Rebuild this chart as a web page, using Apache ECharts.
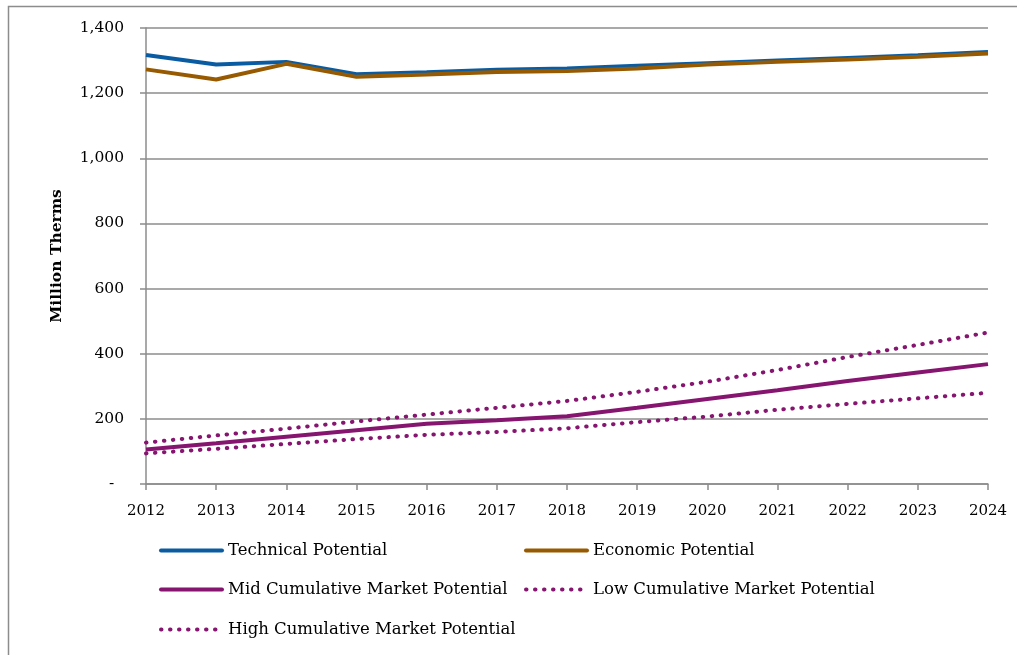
<!DOCTYPE html>
<html style="height: 100%">
<head>
    <meta charset="UTF-8">
    <script src="https://cdn.jsdelivr.net/npm/echarts@6/dist/echarts.min.js"></script>
</head>
<body style="margin: 0; background-color: #FFFFFF">
    <div id="paint" style="width: 1017px; height: 655px;"></div>
<script>
    // years on the x axis
    var years = ['2012','2013','2014','2015','2016','2017','2018','2019','2020','2021','2022','2023','2024'];
    var technical = [1317, 1288, 1296, 1258, 1264, 1272, 1276, 1284, 1292, 1300, 1308, 1316, 1326];
    var economic  = [1273, 1242, 1290, 1250, 1257, 1265, 1268, 1276, 1288, 1296, 1303, 1312, 1322];
    var midMarket = [106, 125, 145, 165, 185, 196, 208, 234, 261, 288, 316, 342, 368];
    var lowMarket = [94, 108, 123, 138, 151, 160, 171, 190, 207, 228, 246, 263, 280];
    var highMarket = [127, 149, 170, 192, 213, 234, 255, 283, 314, 350, 390, 427, 465];

    var font = '"DejaVu Serif", "Liberation Serif", serif';
    var purple = '#861570';
    var dots = { width: 4, type: [0.5, 8.5], cap: 'round', color: purple };

    function oneLegend(name, left, top) {
        return {
            data: [name], left: left, top: top, orient: 'horizontal',
            itemWidth: 61, itemHeight: 8, itemGap: 0,
            itemStyle: { opacity: 0 },
            lineStyle: { width: 4, cap: 'round' },
            textStyle: { fontFamily: font, fontSize: 16.5, color: '#000', padding: [0, 0, 0, 1] }
        };
    }

    echarts.init(document.getElementById('paint')).setOption({
        backgroundColor: '#FFFFFF',
        animation: false,
        graphic: [{
            type: 'rect', left: 6, top: 4, silent: true,
            shape: { x: 0, y: 0, width: 1030, height: 680 },
            style: { fill: 'none', stroke: '#8c8c8c', lineWidth: 1.5 }
        }],
        grid: { left: 146, right: 29, top: 28, bottom: 171, containLabel: false },
        legend: [
            oneLegend('Technical Potential', 154, 537),
            oneLegend('Economic Potential', 519, 537),
            oneLegend('Mid Cumulative Market Potential', 154, 576),
            oneLegend('Low Cumulative Market Potential', 519, 576),
            oneLegend('High Cumulative Market Potential', 154, 616)
        ],
        xAxis: {
            type: 'category',
            data: years,
            boundaryGap: false,
            axisLine: { lineStyle: { color: '#8c8c8c', width: 1.5 } },
            axisTick: { show: true, length: 6, lineStyle: { color: '#8c8c8c', width: 1.5 } },
            axisLabel: { fontFamily: font, fontSize: 15, color: '#000', margin: 20 }
        },
        yAxis: {
            type: 'value',
            min: 0, max: 1400, interval: 200,
            name: 'Million Therms',
            nameLocation: 'middle',
            nameGap: 81,
            nameTextStyle: { fontFamily: font, fontSize: 15.5, fontWeight: 'bold', color: '#000' },
            axisLine: { show: true, lineStyle: { color: '#8c8c8c', width: 1.5 } },
            axisTick: { show: true, length: 6, lineStyle: { color: '#8c8c8c', width: 1.5 } },
            splitLine: { lineStyle: { color: '#8c8c8c', width: 1.5 } },
            axisLabel: {
                fontFamily: font, fontSize: 15.5, color: '#000', margin: 22,
                formatter: function (v) {
                    if (v === 0) return '-  ';
                    return v.toLocaleString('en-US');
                }
            }
        },
        series: [
            { name: 'Technical Potential', type: 'line', data: technical, symbol: 'none',
              lineStyle: { width: 4, color: '#0A5CA2' }, itemStyle: { color: '#0A5CA2' } },
            { name: 'Economic Potential', type: 'line', data: economic, symbol: 'none',
              lineStyle: { width: 4, color: '#975A00' }, itemStyle: { color: '#975A00' } },
            { name: 'Mid Cumulative Market Potential', type: 'line', data: midMarket, symbol: 'none',
              lineStyle: { width: 4, color: purple }, itemStyle: { color: purple } },
            { name: 'Low Cumulative Market Potential', type: 'line', data: lowMarket, symbol: 'none',
              lineStyle: dots, itemStyle: { color: purple } },
            { name: 'High Cumulative Market Potential', type: 'line', data: highMarket, symbol: 'none',
              lineStyle: dots, itemStyle: { color: purple } }
        ]
    });
</script>
</body>
</html>
